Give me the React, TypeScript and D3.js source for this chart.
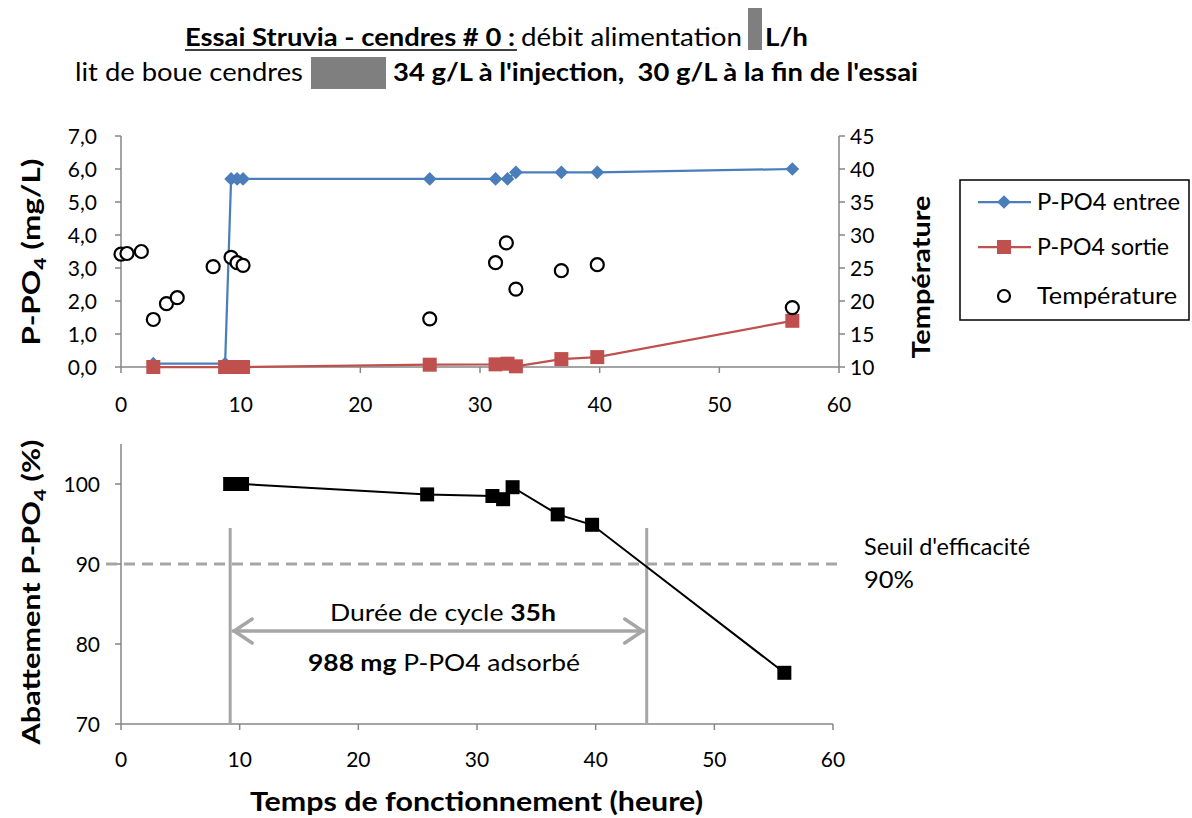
import { useRef, useEffect } from 'react';
import * as d3 from 'd3';

// Top chart: P-PO4 in / out (mg/L) and temperature (°C)
const hoursIn = [2.7, 8.7, 9.2, 9.7, 10.2, 25.8, 31.3, 32.3, 33.0, 36.8, 39.8, 56.1];
const ppo4In = [0.1, 0.1, 5.7, 5.7, 5.7, 5.7, 5.7, 5.7, 5.9, 5.9, 5.9, 6.0];
const hoursOut = [2.7, 8.7, 9.2, 9.7, 10.2, 25.8, 31.3, 32.3, 33.0, 36.8, 39.8, 56.1];
const ppo4Out = [0, 0, 0, 0, 0, 0.07, 0.08, 0.1, 0.02, 0.24, 0.3, 1.4];
const hoursTemp = [0, 0.5, 1.7, 2.7, 3.8, 4.7, 7.7, 9.2, 9.7, 10.2, 25.8, 31.3, 32.2, 33.0, 36.8, 39.8, 56.1];
const temperature = [27.1, 27.2, 27.5, 17.2, 19.6, 20.5, 25.2, 26.6, 25.8, 25.4, 17.3, 25.8, 28.8, 21.8, 24.6, 25.5, 19.0];

// Bottom chart: abatement (%)
const hoursAbat = [9.2, 9.7, 10.2, 25.8, 31.3, 32.2, 33.0, 36.8, 39.7, 55.9];
const abatement = [100, 100, 100, 98.7, 98.5, 98.1, 99.6, 96.2, 94.9, 76.4];

const xTicks = [0, 10, 20, 30, 40, 50, 60];
const leftTicks = [0, 1, 2, 3, 4, 5, 6, 7];
const rightTicks = [10, 15, 20, 25, 30, 35, 40, 45];
const abatTicks = [70, 80, 90, 100];
const threshold = 90;
const cycleStart = 9.2;
const cycleEnd = 44.3;

const FONT = 'Lato, "Open Sans", sans-serif';
const AXIS = '#868686';
const BLUE = '#4a7ebb';
const RED = '#c0504d';
const TICK_FS = 21;

export default function App() {
  const svgRef = useRef<SVGSVGElement>(null);

  useEffect(() => {
    if (!svgRef.current) return;
    const svg = d3.select(svgRef.current);
    svg.selectAll('*').remove();
    svg.attr('font-family', FONT);

    // fit a text element to a given width
    const fit = (sel: d3.Selection<SVGTextElement, unknown, null, undefined>, w: number) =>
      sel.attr('textLength', w).attr('lengthAdjust', 'spacingAndGlyphs');

    // ---------- title ----------
    const title = svg.append('g').attr('font-size', 25);
    fit(title.append('text').attr('x', 185).attr('y', 46).attr('font-weight', 'bold')
      .text('Essai Struvia - cendres # 0 :'), 330);
    title.append('line').attr('x1', 185).attr('x2', 517).attr('y1', 50).attr('y2', 50)
      .attr('stroke', '#000').attr('stroke-width', 1.5);
    fit(title.append('text').attr('x', 521).attr('y', 46).text('débit alimentation'), 221);
    title.append('rect').attr('x', 748).attr('y', 8).attr('width', 14).attr('height', 42).attr('fill', '#7f7f7f');
    fit(title.append('text').attr('x', 765).attr('y', 46).attr('font-weight', 'bold').text('L/h'), 43);
    fit(title.append('text').attr('x', 75).attr('y', 81).text('lit de boue cendres'), 228);
    title.append('rect').attr('x', 311).attr('y', 57).attr('width', 75).attr('height', 32).attr('fill', '#7f7f7f');
    fit(title.append('text').attr('x', 393).attr('y', 81).attr('font-weight', 'bold')
      .attr('xml:space', 'preserve')
      .text("34 g/L à l'injection,  30 g/L à la fin de l'essai"), 525);

    // ---------- top chart ----------
    const x1 = d3.scaleLinear().domain([0, 60]).range([121, 839]);
    const yL = d3.scaleLinear().domain([0, 7]).range([367, 136]);
    const yR = d3.scaleLinear().domain([10, 45]).range([367, 136]);
    const top = svg.append('g');

    top.append('line').attr('x1', x1(0)).attr('x2', x1(0)).attr('y1', yL(7)).attr('y2', yL(0))
      .attr('stroke', AXIS).attr('stroke-width', 1.5);
    top.append('line').attr('x1', x1(60)).attr('x2', x1(60)).attr('y1', yR(45)).attr('y2', yR(10))
      .attr('stroke', AXIS).attr('stroke-width', 1.5);
    top.append('line').attr('x1', x1(0)).attr('x2', x1(60)).attr('y1', yL(0)).attr('y2', yL(0))
      .attr('stroke', AXIS).attr('stroke-width', 1.5);

    const fmt = (v: number) => d3.format('.1f')(v).replace('.', ',');
    leftTicks.forEach((t) => {
      top.append('line').attr('x1', x1(0) - 6).attr('x2', x1(0)).attr('y1', yL(t)).attr('y2', yL(t))
        .attr('stroke', AXIS).attr('stroke-width', 1.5);
      top.append('text').attr('x', 97).attr('y', yL(t)).attr('dy', '0.36em').attr('text-anchor', 'end')
        .attr('font-size', TICK_FS).text(fmt(t));
    });
    rightTicks.forEach((t) => {
      top.append('line').attr('x1', x1(60)).attr('x2', x1(60) + 6).attr('y1', yR(t)).attr('y2', yR(t))
        .attr('stroke', AXIS).attr('stroke-width', 1.5);
      top.append('text').attr('x', 850).attr('y', yR(t)).attr('dy', '0.36em').attr('text-anchor', 'start')
        .attr('font-size', TICK_FS).text(t);
    });
    xTicks.forEach((t) => {
      top.append('line').attr('x1', x1(t)).attr('x2', x1(t)).attr('y1', yL(0)).attr('y2', yL(0) + 6)
        .attr('stroke', AXIS).attr('stroke-width', 1.5);
      top.append('text').attr('x', x1(t)).attr('y', 412).attr('text-anchor', 'middle')
        .attr('font-size', TICK_FS).text(t);
    });

    const ttl = fit(top.append('text').attr('transform', 'translate(40,252) rotate(-90)')
      .attr('text-anchor', 'middle').attr('font-size', 25).attr('font-weight', 'bold'), 187);
    ttl.append('tspan').text('P-PO');
    ttl.append('tspan').attr('font-size', 17).attr('dy', 6).text('4');
    ttl.append('tspan').attr('dy', -6).text(' (mg/L)');
    fit(top.append('text').attr('transform', 'translate(930,277) rotate(-90)')
      .attr('text-anchor', 'middle').attr('font-size', 25).attr('font-weight', 'bold').text('Température'), 163);

    const lineIn = d3.line<number>().x((_, i) => x1(hoursIn[i])).y((d) => yL(d));
    top.append('path').attr('d', lineIn(ppo4In)).attr('fill', 'none').attr('stroke', BLUE).attr('stroke-width', 2.25);
    const lineOut = d3.line<number>().x((_, i) => x1(hoursOut[i])).y((d) => yL(d));
    top.append('path').attr('d', lineOut(ppo4Out)).attr('fill', 'none').attr('stroke', RED).attr('stroke-width', 2.25);

    const diamond = d3.symbol().type(d3.symbolDiamond2).size(120)();
    top.selectAll('.dia').data(ppo4In).enter().append('path')
      .attr('d', diamond).attr('fill', BLUE)
      .attr('transform', (d, i) => `translate(${x1(hoursIn[i])},${yL(d)})`);
    top.selectAll('.sq').data(ppo4Out).enter().append('rect')
      .attr('x', (_, i) => x1(hoursOut[i]) - 7).attr('y', (d) => yL(d) - 7)
      .attr('width', 14).attr('height', 14).attr('fill', RED);
    top.selectAll('.tc').data(temperature).enter().append('circle')
      .attr('cx', (_, i) => x1(hoursTemp[i])).attr('cy', (d) => yR(d)).attr('r', 6.5)
      .attr('fill', '#fff').attr('stroke', '#000').attr('stroke-width', 2.2);

    // legend
    const lg = svg.append('g');
    lg.append('rect').attr('x', 960).attr('y', 180).attr('width', 229).attr('height', 140)
      .attr('fill', '#fff').attr('stroke', '#000').attr('stroke-width', 1.5);
    lg.append('line').attr('x1', 978).attr('x2', 1031).attr('y1', 202).attr('y2', 202).attr('stroke', BLUE).attr('stroke-width', 2.25);
    lg.append('path').attr('d', diamond).attr('fill', BLUE).attr('transform', 'translate(1004,202)');
    lg.append('line').attr('x1', 978).attr('x2', 1031).attr('y1', 247).attr('y2', 247).attr('stroke', RED).attr('stroke-width', 2.25);
    lg.append('rect').attr('x', 997).attr('y', 240).attr('width', 14).attr('height', 14).attr('fill', RED);
    lg.append('circle').attr('cx', 1004).attr('cy', 296).attr('r', 6).attr('fill', '#fff').attr('stroke', '#000').attr('stroke-width', 2.2);
    ([['P-PO4 entree', 202, 143], ['P-PO4 sortie', 247, 132], ['Température', 296, 140]] as [string, number, number][])
      .forEach(([t, y, w]) => {
        fit(lg.append('text').attr('x', 1037).attr('y', y).attr('dy', '0.36em').attr('font-size', 23).text(t), w);
      });

    // ---------- bottom chart ----------
    const x2 = d3.scaleLinear().domain([0, 60]).range([121, 833]);
    const y2 = d3.scaleLinear().domain([70, 105]).range([724, 444]);
    const bot = svg.append('g');

    bot.append('line').attr('x1', x2(0)).attr('x2', x2(0)).attr('y1', y2(105)).attr('y2', y2(70))
      .attr('stroke', AXIS).attr('stroke-width', 1.5);
    bot.append('line').attr('x1', x2(0)).attr('x2', x2(60)).attr('y1', y2(70)).attr('y2', y2(70))
      .attr('stroke', AXIS).attr('stroke-width', 1.5);
    abatTicks.forEach((t) => {
      bot.append('line').attr('x1', x2(0) - 6).attr('x2', x2(0)).attr('y1', y2(t)).attr('y2', y2(t))
        .attr('stroke', AXIS).attr('stroke-width', 1.5);
      bot.append('text').attr('x', 100).attr('y', y2(t)).attr('dy', '0.36em').attr('text-anchor', 'end')
        .attr('font-size', TICK_FS).text(t);
    });
    xTicks.forEach((t) => {
      bot.append('line').attr('x1', x2(t)).attr('x2', x2(t)).attr('y1', y2(70)).attr('y2', y2(70) + 6)
        .attr('stroke', AXIS).attr('stroke-width', 1.5);
      bot.append('text').attr('x', x2(t)).attr('y', 767).attr('text-anchor', 'middle')
        .attr('font-size', TICK_FS).text(t);
    });

    const btl = fit(bot.append('text').attr('transform', 'translate(40,592) rotate(-90)')
      .attr('text-anchor', 'middle').attr('font-size', 25).attr('font-weight', 'bold'), 305);
    btl.append('tspan').text('Abattement P-PO');
    btl.append('tspan').attr('font-size', 17).attr('dy', 6).text('4');
    btl.append('tspan').attr('dy', -6).text(' (%)');
    fit(bot.append('text').attr('x', 250).attr('y', 811)
      .attr('font-size', 26).attr('font-weight', 'bold').text('Temps de fonctionnement (heure)'), 453);

    // threshold
    bot.append('line').attr('x1', 106).attr('x2', 840).attr('y1', y2(threshold)).attr('y2', y2(threshold))
      .attr('stroke', '#a6a6a6').attr('stroke-width', 3).attr('stroke-dasharray', '11,7');
    fit(bot.append('text').attr('x', 864).attr('y', 555).attr('font-size', 23).text("Seuil d'efficacité"), 166);
    fit(bot.append('text').attr('x', 864).attr('y', 588).attr('font-size', 23).text('90%'), 50);

    // cycle markers
    [cycleStart, cycleEnd].forEach((t) => {
      bot.append('line').attr('x1', x2(t)).attr('x2', x2(t)).attr('y1', 528).attr('y2', y2(70))
        .attr('stroke', '#a6a6a6').attr('stroke-width', 3);
    });
    const ay = 631;
    const ax0 = x2(cycleStart) + 2;
    const ax1 = x2(cycleEnd) - 2;
    bot.append('line').attr('x1', ax0).attr('x2', ax1).attr('y1', ay).attr('y2', ay)
      .attr('stroke', '#a6a6a6').attr('stroke-width', 3.5);
    bot.append('path').attr('d', `M${ax0 + 20},${ay - 12} L${ax0 + 2},${ay} L${ax0 + 20},${ay + 12}`)
      .attr('fill', 'none').attr('stroke', '#a6a6a6').attr('stroke-width', 3.5).attr('stroke-linecap', 'round');
    bot.append('path').attr('d', `M${ax1 - 20},${ay - 12} L${ax1 - 2},${ay} L${ax1 - 20},${ay + 12}`)
      .attr('fill', 'none').attr('stroke', '#a6a6a6').attr('stroke-width', 3.5).attr('stroke-linecap', 'round');

    const c1 = fit(bot.append('text').attr('x', 330).attr('y', 621).attr('font-size', 23), 226);
    c1.append('tspan').text('Durée de cycle ');
    c1.append('tspan').attr('font-weight', 'bold').text('35h');
    const c2 = fit(bot.append('text').attr('x', 308).attr('y', 671).attr('font-size', 23), 272);
    c2.append('tspan').attr('font-weight', 'bold').text('988 mg');
    c2.append('tspan').text(' P-PO4 adsorbé');

    // abatement series
    const lineAb = d3.line<number>().x((_, i) => x2(hoursAbat[i])).y((d) => y2(d));
    bot.append('path').attr('d', lineAb(abatement)).attr('fill', 'none').attr('stroke', '#000').attr('stroke-width', 2);
    bot.selectAll('.ab').data(abatement).enter().append('rect')
      .attr('x', (_, i) => x2(hoursAbat[i]) - 7).attr('y', (d) => y2(d) - 7)
      .attr('width', 14).attr('height', 14).attr('fill', '#000');
  }, []);

  return (
    <div style={{ position: 'absolute', left: 0, top: 0, background: '#fff' }}>
      <svg ref={svgRef} width={1192} height={818} style={{ display: 'block' }} />
    </div>
  );
}
